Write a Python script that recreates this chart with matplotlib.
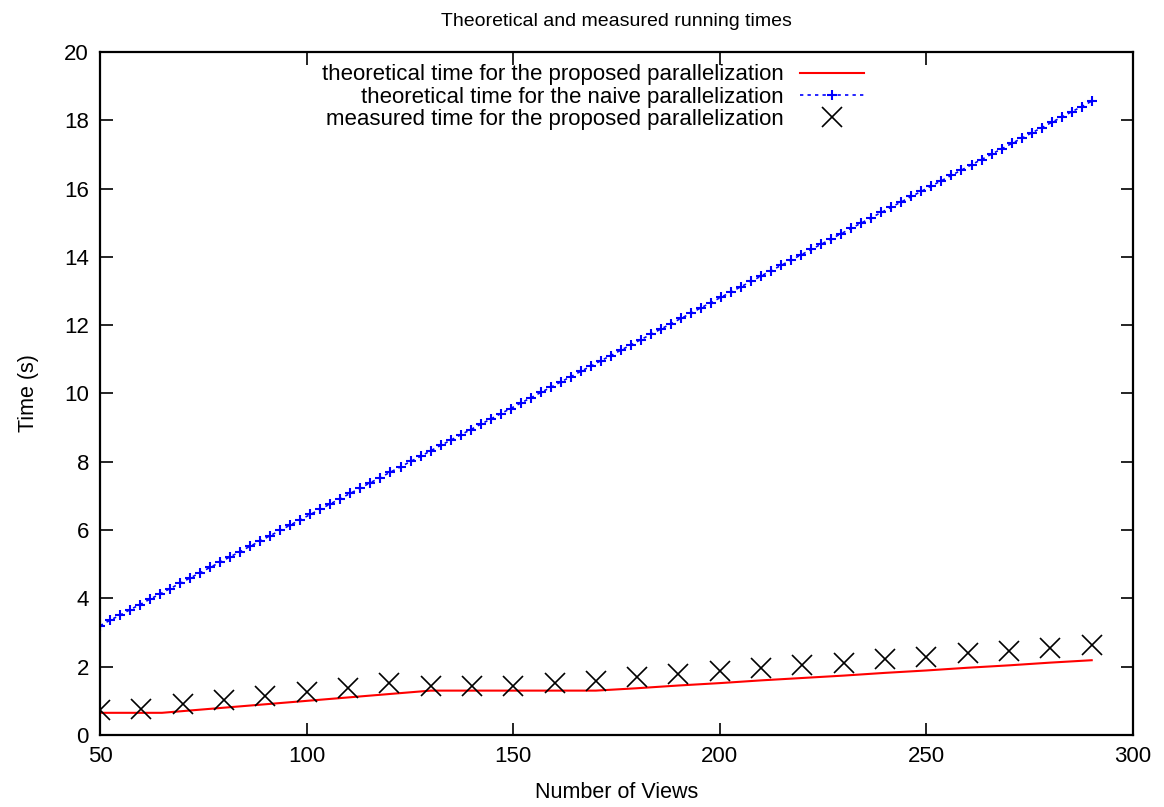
import numpy as np
import matplotlib
matplotlib.use("Agg")
import matplotlib.pyplot as plt

plt.rcParams['font.family'] = ['Liberation Sans', 'DejaVu Sans']

# theoretical time, naive parallelization (sampled curve)
naive_x = [50.00, 52.42, 54.85, 57.27, 59.70, 62.12, 64.55, 66.97, 69.39, 71.82,
           74.24, 76.67, 79.09, 81.52, 83.94, 86.36, 88.79, 91.21, 93.64, 96.06,
           98.48, 100.91, 103.33, 105.76, 108.18, 110.61, 113.03, 115.45, 117.88, 120.30,
           122.73, 125.15, 127.58, 130.00, 132.42, 134.85, 137.27, 139.70, 142.12, 144.55,
           146.97, 149.39, 151.82, 154.24, 156.67, 159.09, 161.52, 163.94, 166.36, 168.79,
           171.21, 173.64, 176.06, 178.48, 180.91, 183.33, 185.76, 188.18, 190.61, 193.03,
           195.45, 197.88, 200.30, 202.73, 205.15, 207.58, 210.00, 212.42, 214.85, 217.27,
           219.70, 222.12, 224.55, 226.97, 229.39, 231.82, 234.24, 236.67, 239.09, 241.52,
           243.94, 246.36, 248.79, 251.21, 253.64, 256.06, 258.48, 260.91, 263.33, 265.76,
           268.18, 270.61, 273.03, 275.45, 277.88, 280.30, 282.73, 285.15, 287.58, 290.00]
naive_t = [3.20, 3.36, 3.51, 3.67, 3.82, 3.98, 4.13, 4.29, 4.44, 4.60,
           4.75, 4.91, 5.06, 5.22, 5.37, 5.53, 5.68, 5.84, 5.99, 6.15,
           6.30, 6.46, 6.61, 6.77, 6.92, 7.08, 7.23, 7.39, 7.54, 7.70,
           7.85, 8.01, 8.16, 8.32, 8.48, 8.63, 8.79, 8.94, 9.10, 9.25,
           9.41, 9.56, 9.72, 9.87, 10.03, 10.18, 10.34, 10.49, 10.65, 10.80,
           10.96, 11.11, 11.27, 11.42, 11.58, 11.73, 11.89, 12.04, 12.20, 12.35,
           12.51, 12.66, 12.82, 12.97, 13.13, 13.28, 13.44, 13.60, 13.75, 13.91,
           14.06, 14.22, 14.37, 14.53, 14.68, 14.84, 14.99, 15.15, 15.30, 15.46,
           15.61, 15.77, 15.92, 16.08, 16.23, 16.39, 16.54, 16.70, 16.85, 17.01,
           17.16, 17.32, 17.47, 17.63, 17.78, 17.94, 18.09, 18.25, 18.40, 18.56]

# theoretical time, proposed parallelization
prop_x = [50, 60, 65, 70, 80, 90, 100, 110, 120, 130, 140, 150, 160, 170,
          180, 190, 200, 210, 220, 230, 240, 250, 260, 270, 280, 290]
prop_t = [0.65, 0.65, 0.65, 0.70, 0.80, 0.90, 1.00, 1.10, 1.20, 1.30, 1.30, 1.30, 1.30, 1.30,
          1.37, 1.45, 1.52, 1.60, 1.67, 1.74, 1.82, 1.89, 1.97, 2.04, 2.12, 2.19]

# measured time, proposed parallelization
meas_x = [50, 60, 70, 80, 90, 100, 110, 120, 130, 140, 150, 160, 170,
          180, 190, 200, 210, 220, 230, 240, 250, 260, 270, 280, 290]
meas_t = [0.73, 0.76, 0.91, 1.02, 1.14, 1.27, 1.39, 1.51, 1.43, 1.43, 1.43, 1.51, 1.59,
          1.69, 1.79, 1.86, 1.95, 2.05, 2.12, 2.22, 2.29, 2.39, 2.47, 2.56, 2.64]

fig = plt.figure(figsize=(11.64, 8.07), dpi=100)
ax = fig.add_axes([0.0859, 0.0892, 0.8875, 0.8464])

ax.plot(prop_x, prop_t, color='#ff0000', lw=1.5,
        label='theoretical time for the proposed parallelization')
ax.plot(naive_x, naive_t, color='#0000ff', lw=1.2, ls=(0, (2, 2.5)),
        marker='+', ms=7.5, mew=1.5,
        label='theoretical time for the naive parallelization')
ax.plot(meas_x, meas_t, ls='none', marker='x', ms=15, mew=1.2, color='black',
        label='measured time for the proposed parallelization')

ax.set_xlim(50, 300)
ax.set_ylim(0, 20)
ax.set_xticks(np.arange(50, 301, 50))
ax.set_yticks(np.arange(0, 21, 2))
ax.tick_params(direction='in', length=9, width=1.2, top=True, right=True,
               labelsize=16, pad=8)
for s in ax.spines.values():
    s.set_linewidth(1.6)

ax.set_title('Theoretical and measured running times', fontsize=14, pad=19)
ax.set_xlabel('Number of Views', fontsize=15.5, labelpad=11)
ax.set_ylabel('Time (s)', fontsize=15.5, labelpad=18)

leg = ax.legend(loc='upper right', bbox_to_anchor=(0.759, 1.011), frameon=False,
                markerfirst=False, fontsize=16, handlelength=2.9,
                labelspacing=0.06, handletextpad=0.7)

fig.savefig('out.png', dpi=100)
